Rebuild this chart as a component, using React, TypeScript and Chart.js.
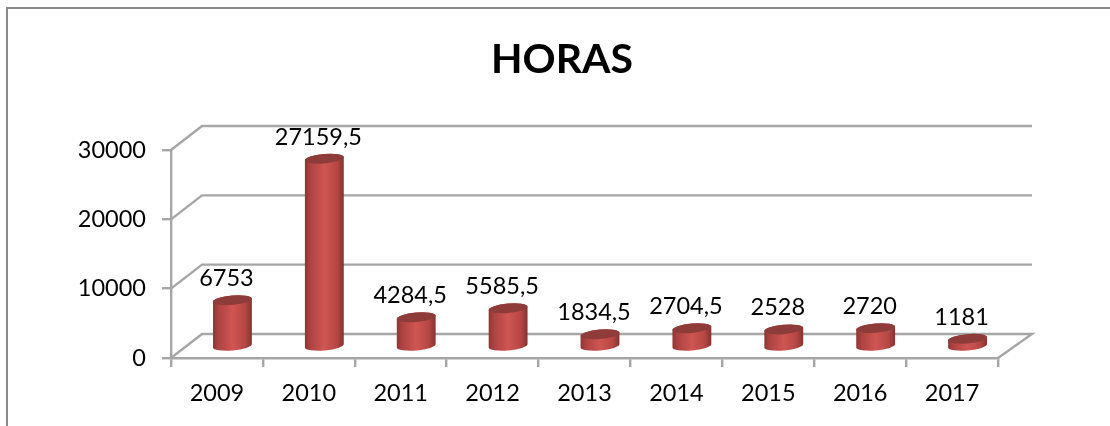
import React, { useEffect, useRef } from "react";
import { Chart, registerables } from "chart.js";

Chart.register(...registerables);

const years = ["2009", "2010", "2011", "2012", "2013", "2014", "2015", "2016", "2017"];
const hours = [6753, 27159.5, 4284.5, 5585.5, 1834.5, 2704.5, 2528, 2720, 1181];
const titleText = "HORAS";
const font = "Lato, 'Open Sans', sans-serif";

const LINE = "#a6a6a6";
const DEPTH_X = 31;
const DEPTH_Y = 24;
const MID_X = 15.5;
const MID_Y = 11;
const RY = 4.7;
const ROT = (-5 * Math.PI) / 180;

const frame3d = {
  id: "frame3d",
  afterLayout(chart: any) {
    if (chart.titleBlock) {
      chart.titleBlock.left = 126;
      chart.titleBlock.right = 998;
    }
  },
  beforeDraw(chart: any) {
    const { ctx, width, height } = chart;
    ctx.save();
    ctx.fillStyle = "#ffffff";
    ctx.fillRect(0, 0, width, height);
    ctx.strokeStyle = "#8a8a8a";
    ctx.lineWidth = 2;
    ctx.beginPath();
    ctx.moveTo(7, height);
    ctx.lineTo(7, 8);
    ctx.lineTo(width, 8);
    ctx.stroke();
    ctx.restore();
  },
  beforeDatasetsDraw(chart: any) {
    const { ctx, chartArea, scales } = chart;
    const { left, right, bottom } = chartArea;
    ctx.save();
    ctx.strokeStyle = LINE;
    ctx.lineWidth = 2.4;
    scales.y.ticks.forEach((t: any) => {
      const y = scales.y.getPixelForValue(t.value);
      ctx.beginPath();
      ctx.moveTo(left, y);
      ctx.lineTo(left + DEPTH_X, y - DEPTH_Y);
      ctx.lineTo(right + DEPTH_X + 3, y - DEPTH_Y);
      if (t.value === 0) ctx.lineTo(right, bottom);
      ctx.stroke();
    });
    ctx.restore();
  },
  afterDatasetsDraw(chart: any) {
    const { ctx } = chart;
    const meta = chart.getDatasetMeta(0);
    ctx.save();
    meta.data.forEach((el: any, i: number) => {
      const rx = el.width / 2;
      const cx = el.x + MID_X;
      const top = el.y - MID_Y;
      const bot = el.base - MID_Y;
      const g = ctx.createLinearGradient(cx - rx, 0, cx + rx, 0);
      g.addColorStop(0, "#8c3634");
      g.addColorStop(0.14, "#ad4341");
      g.addColorStop(0.5, "#cf5552");
      g.addColorStop(0.82, "#b64744");
      g.addColorStop(1, "#843230");
      ctx.fillStyle = g;
      ctx.beginPath();
      ctx.ellipse(cx, top, rx, RY, ROT, Math.PI, 0, false);
      ctx.ellipse(cx, bot, rx, RY, ROT, 0, Math.PI, false);
      ctx.closePath();
      ctx.fill();
      ctx.fillStyle = "#8e3c3a";
      ctx.beginPath();
      ctx.ellipse(cx, top, rx, RY, ROT, 0, Math.PI * 2);
      ctx.fill();

      ctx.fillStyle = "#000000";
      ctx.font = `23.5px ${font}`;
      ctx.textAlign = "center";
      ctx.textBaseline = "alphabetic";
      ctx.fillText(String(hours[i]).replace(".", ","), cx - 6, top - 14);
    });
    ctx.restore();
  },
};

export default function App() {
  const ref = useRef<HTMLCanvasElement>(null);
  useEffect(() => {
    const chart = new Chart(ref.current as HTMLCanvasElement, {
      type: "bar",
      data: {
        labels: years,
        datasets: [
          {
            label: titleText,
            data: hours,
            backgroundColor: "rgba(0,0,0,0)",
            borderWidth: 0,
            barThickness: 39,
          },
        ],
      },
      options: {
        responsive: false,
        animation: false,
        events: [],
        layout: { padding: { left: 0, right: 112, top: 0, bottom: 0 } },
        plugins: {
          legend: { display: false },
          tooltip: { enabled: false },
          title: {
            display: true,
            text: titleText,
            color: "#000000",
            font: { family: font, size: 41, weight: "bold", lineHeight: 1.2 },
            padding: { top: 35.4, bottom: 65.4 },
          },
        },
        scales: {
          x: {
            offset: true,
            grid: { display: true, drawOnChartArea: false, drawTicks: true, tickLength: 9, color: LINE, lineWidth: 2.4, offset: true },
            border: { display: true, color: LINE, width: 2.4 },
            ticks: { color: "#000000", font: { family: font, size: 23.5 }, maxRotation: 0, autoSkip: false, padding: 12 },
            afterFit: (s: any) => { s.height = 68; },
          },
          y: {
            min: 0,
            max: 30000,
            grid: { display: true, drawOnChartArea: false, drawTicks: true, tickLength: 9, color: LINE, lineWidth: 2.4 },
            border: { display: true, color: LINE, width: 2.4 },
            ticks: { stepSize: 10000, color: "#000000", font: { family: font, size: 23.5 }, padding: 16, callback: (v: any) => String(v) },
            afterFit: (s: any) => { s.width = 171; },
          },
        },
      },
      plugins: [frame3d],
    } as any);
    return () => chart.destroy();
  }, []);
  return (
    <div style={{ position: "fixed", left: 0, top: 0, width: 1110, height: 426, overflow: "hidden", background: "#fff" }}>
      <canvas ref={ref} width={1110} height={426} style={{ display: "block", filter: "blur(0.4px)" }} />
    </div>
  );
}
